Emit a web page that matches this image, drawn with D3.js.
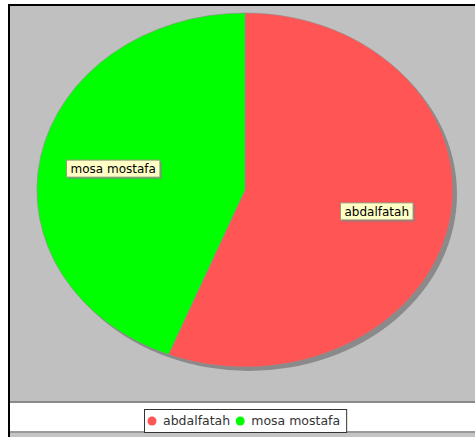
<!DOCTYPE html>
<html>
<head>
<meta charset="utf-8" />
<title></title>
<script src="https://d3js.org/d3.v7.min.js"></script>
<style>
    body { margin: 0; background: #ffffff; }
    svg { display: block; font-family: "DejaVu Sans", sans-serif; }
    .label-text { font-size: 12px; fill: #000000; }
    .legend-text { font-size: 12.5px; fill: #333333; }
</style>
</head>
<body>
<div id="chart"></div>
<script>
    var names = ["abdalfatah", "mosa mostafa"];
    var values = [56, 44];
    var colors = ["#ff5555", "#00ff00"];

    var W = 475, H = 437;
    var cx = 245, cy = 190, rx = 208, ry = 177;

    var svg = d3.select("#chart").append("svg")
        .attr("width", W)
        .attr("height", H);

    // frame and background bands
    svg.append("rect").attr("x", 8).attr("y", 4).attr("width", W - 8).attr("height", H - 4).attr("fill", "#000000");
    svg.append("rect").attr("x", 10).attr("y", 6).attr("width", W - 10).attr("height", 395).attr("fill", "#c0c0c0");
    svg.append("rect").attr("x", 10).attr("y", 401).attr("width", W - 10).attr("height", 2).attr("fill", "#8a8a8a");
    svg.append("rect").attr("x", 10).attr("y", 403).attr("width", W - 10).attr("height", 28).attr("fill", "#ffffff");
    svg.append("rect").attr("x", 10).attr("y", 431).attr("width", W - 10).attr("height", 2).attr("fill", "#9a9a9a");
    svg.append("rect").attr("x", 10).attr("y", 433).attr("width", W - 10).attr("height", 4).attr("fill", "#c4c4c4");

    var pie = d3.pie().sort(null).value(function(d) { return d; });
    var arcs = pie(values);
    var arc = d3.arc().innerRadius(0).outerRadius(1);
    var labelArc = d3.arc().innerRadius(0.645).outerRadius(0.645);

    // shadow
    svg.append("ellipse")
        .attr("cx", cx + 4).attr("cy", cy + 4)
        .attr("rx", rx).attr("ry", ry)
        .attr("fill", "#8a8a8a");

    var g = svg.append("g")
        .attr("transform", "translate(" + cx + "," + cy + ") scale(" + rx + "," + ry + ")");
    g.selectAll("path")
        .data(arcs)
        .enter().append("path")
        .attr("d", arc)
        .attr("fill", function(d, i) { return colors[i]; })
        .attr("stroke", "#8f8f8f")
        .attr("stroke-width", 0.6)
        .attr("vector-effect", "non-scaling-stroke");

    // labels
    var labels = svg.append("g");
    arcs.forEach(function(d, i) {
        var c = labelArc.centroid(d);
        var lx = cx + c[0] * rx, ly = cy + c[1] * ry;
        var lg = labels.append("g");
        var t = lg.append("text")
            .attr("class", "label-text")
            .attr("x", lx).attr("y", ly)
            .attr("text-anchor", "middle")
            .attr("dy", "0.35em")
            .text(names[i]);
        var bb = t.node().getBBox();
        var bw = bb.width + 8, bh = 17;
        lg.insert("rect", "text")
            .attr("x", lx - bw / 2 + 2).attr("y", ly - bh / 2 + 2)
            .attr("width", bw).attr("height", bh)
            .attr("fill", "#808080").attr("opacity", 0.6);
        lg.insert("rect", "text")
            .attr("x", lx - bw / 2).attr("y", ly - bh / 2)
            .attr("width", bw).attr("height", bh)
            .attr("fill", "#ffffc6")
            .attr("stroke", "#9a9a80").attr("stroke-width", 1);
    });

    // legend
    var legend = svg.append("g");
    var lx0 = 0, itemY = 421;
    names.forEach(function(n, i) {
        var it = legend.append("g");
        it.append("circle").attr("cx", lx0 + 8).attr("cy", itemY).attr("r", 4.5).attr("fill", colors[i]);
        var t = it.append("text").attr("class", "legend-text")
            .attr("x", lx0 + 19).attr("y", itemY).attr("dy", "0.35em").text(n);
        lx0 += 19 + t.node().getComputedTextLength() + 2;
    });
    var legW = lx0 + 4;
    var legX = Math.round(245.5 - legW / 2);
    legend.attr("transform", "translate(" + legX + ",0)");
    legend.insert("rect", "g")
        .attr("x", 0.5).attr("y", 409.5)
        .attr("width", legW).attr("height", 23)
        .attr("fill", "#ffffff")
        .attr("stroke", "#333333").attr("stroke-width", 1);
</script>
</body>
</html>
